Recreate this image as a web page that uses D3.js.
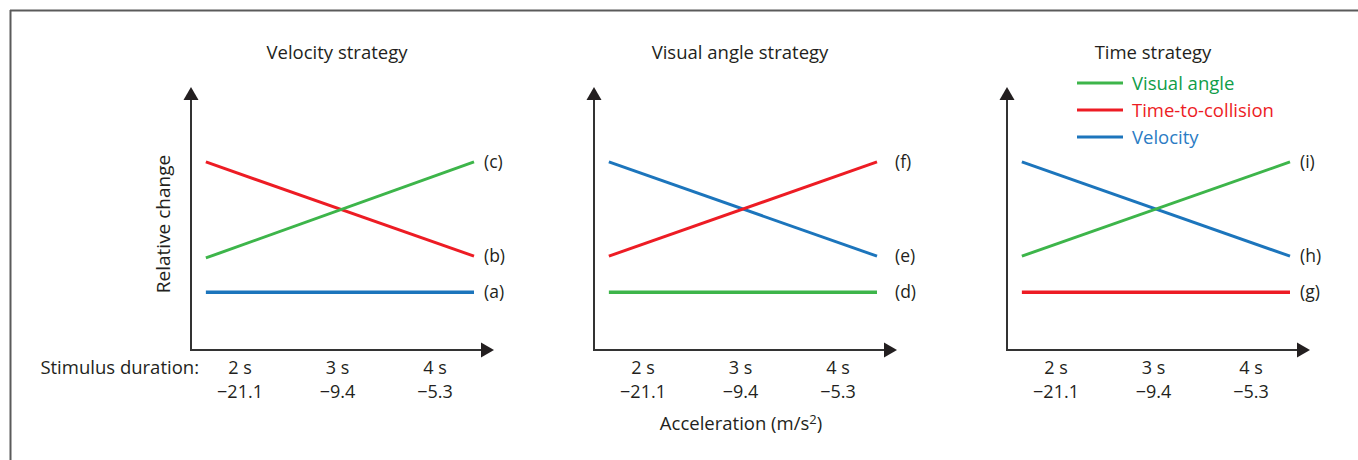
<!DOCTYPE html>
<html>
<head>
<meta charset="utf-8">
<script src="https://cdn.jsdelivr.net/npm/d3@7"></script>
<style>
  html, body { margin: 0; padding: 0; background: #fff; }
  svg { display: block; }
  text { font-family: "Open Sans", "Noto Sans", sans-serif; fill: #231f20; }
</style>
</head>
<body>
<svg id="chart" width="1358" height="460"></svg>
<script>
// Stimulus durations (s) and the matching accelerations (m/s²)
const durations = [2, 3, 4];
const durationLabels = ["2 s", "3 s", "4 s"];
const accelerationLabels = ["\u221221.1", "\u22129.4", "\u22125.3"];

// Range of durations spanned by each schematic line
const lineSpan = [1.65, 4.4];

const panelTitles = ["Velocity strategy", "Visual angle strategy", "Time strategy"];

// Relative change of each variable at the two ends of lineSpan
const velocityStrategy = [
  { key: "Velocity",          values: [0.22, 0.22],   label: "(a)" },
  { key: "Time-to-collision", values: [0.715, 0.357], label: "(b)" },
  { key: "Visual angle",      values: [0.35, 0.715],  label: "(c)" }
];
const visualAngleStrategy = [
  { key: "Visual angle",      values: [0.22, 0.22],   label: "(d)" },
  { key: "Velocity",          values: [0.715, 0.357], label: "(e)" },
  { key: "Time-to-collision", values: [0.357, 0.715], label: "(f)" }
];
const timeStrategy = [
  { key: "Time-to-collision", values: [0.22, 0.22],   label: "(g)" },
  { key: "Velocity",          values: [0.715, 0.357], label: "(h)" },
  { key: "Visual angle",      values: [0.357, 0.715], label: "(i)" }
];

const legendKeys = ["Visual angle", "Time-to-collision", "Velocity"];

const lineColor = d3.scaleOrdinal()
  .domain(["Visual angle", "Time-to-collision", "Velocity"])
  .range(["#3db54a", "#ed1c24", "#1c75bc"]);
const legendTextColor = d3.scaleOrdinal()
  .domain(["Visual angle", "Time-to-collision", "Velocity"])
  .range(["#0f9d48", "#ed1c24", "#2b7cc4"]);

const svg = d3.select("#chart");
const FS = 18.5;

// Frame: top and left rules
svg.append("line").attr("x1", 10).attr("x2", 1358).attr("y1", 10.5).attr("y2", 10.5)
  .attr("stroke", "#5a5a5a").attr("stroke-width", 2);
svg.append("line").attr("x1", 10.5).attr("x2", 10.5).attr("y1", 10).attr("y2", 460)
  .attr("stroke", "#5a5a5a").attr("stroke-width", 2);

const panels = [
  { x: 191,  data: velocityStrategy,    labelDx: 293 },
  { x: 594,  data: visualAngleStrategy, labelDx: 301 },
  { x: 1007, data: timeStrategy,        labelDx: 293 }
];

const axisTop = 87, axisBottom = 350, axisRight = 303;
const x = d3.scaleLinear().domain([2, 4]).range([49, 244]);
const y = d3.scaleLinear().domain([0, 1]).range([axisBottom, axisTop]);

const line = d3.line().x(d => x(d[0])).y(d => y(d[1]));

panels.forEach((p, i) => {
  const g = svg.append("g").attr("transform", `translate(${p.x},0)`);

  // Title
  g.append("text").attr("x", 146).attr("y", 59)
    .attr("text-anchor", "middle").attr("font-size", FS)
    .text(panelTitles[i]);

  // Axes with arrow heads
  g.append("path")
    .attr("d", `M0,${axisTop + 10}V${axisBottom}H${axisRight - 12}`)
    .attr("fill", "none").attr("stroke", "#333").attr("stroke-width", 2);
  g.append("path")
    .attr("d", `M0,${axisTop}L-7.5,${axisTop + 13}L7.5,${axisTop + 13}Z`)
    .attr("fill", "#231f20");
  g.append("path")
    .attr("d", `M${axisRight},${axisBottom}L${axisRight - 13},${axisBottom - 7.5}L${axisRight - 13},${axisBottom + 7.5}Z`)
    .attr("fill", "#231f20");

  // Series lines
  g.selectAll("path.series").data(p.data).join("path")
    .attr("class", "series")
    .attr("d", d => line([[lineSpan[0], d.values[0]], [lineSpan[1], d.values[1]]]))
    .attr("fill", "none")
    .attr("stroke", d => lineColor(d.key))
    .attr("stroke-width", d => d.values[0] === d.values[1] ? 3.5 : 3);

  // End labels
  g.selectAll("text.end").data(p.data).join("text")
    .attr("class", "end")
    .attr("x", p.labelDx)
    .attr("y", d => y(d.values[1]) + 6)
    .attr("font-size", 17.5)
    .text(d => d.label);

  // Tick labels
  g.selectAll("text.dur").data(durations).join("text")
    .attr("class", "dur")
    .attr("x", d => x(d)).attr("y", 374)
    .attr("text-anchor", "middle").attr("font-size", 18)
    .text((d, j) => durationLabels[j]);
  g.selectAll("text.acc").data(durations).join("text")
    .attr("class", "acc")
    .attr("x", d => x(d)).attr("y", 398)
    .attr("text-anchor", "middle").attr("font-size", 18)
    .text((d, j) => accelerationLabels[j]);

  if (i === 0) {
    g.append("text").attr("x", 8).attr("y", 374)
      .attr("text-anchor", "end").attr("font-size", FS)
      .text("Stimulus duration:");
    g.append("text")
      .attr("transform", `translate(-21,224) rotate(-90)`)
      .attr("text-anchor", "middle").attr("font-size", 19)
      .text("Relative change");
  }
  if (i === 1) {
    const t = g.append("text").attr("x", 147).attr("y", 430)
      .attr("text-anchor", "middle").attr("font-size", FS);
    t.append("tspan").text("Acceleration (m/s");
    t.append("tspan").attr("dy", -6).attr("font-size", 13).text("2");
    t.append("tspan").attr("dy", 6).text(")");
  }
  if (i === 2) {
    const leg = g.selectAll("g.legend").data(legendKeys).join("g")
      .attr("class", "legend")
      .attr("transform", (d, j) => `translate(70,${83 + j * 27})`);
    leg.append("line").attr("x1", 0).attr("x2", 46)
      .attr("stroke", d => lineColor(d)).attr("stroke-width", 3);
    leg.append("text").attr("x", 55).attr("y", 6.5)
      .attr("font-size", FS)
      .style("fill", d => legendTextColor(d))
      .text(d => d);
  }
});
</script>
</body>
</html>
